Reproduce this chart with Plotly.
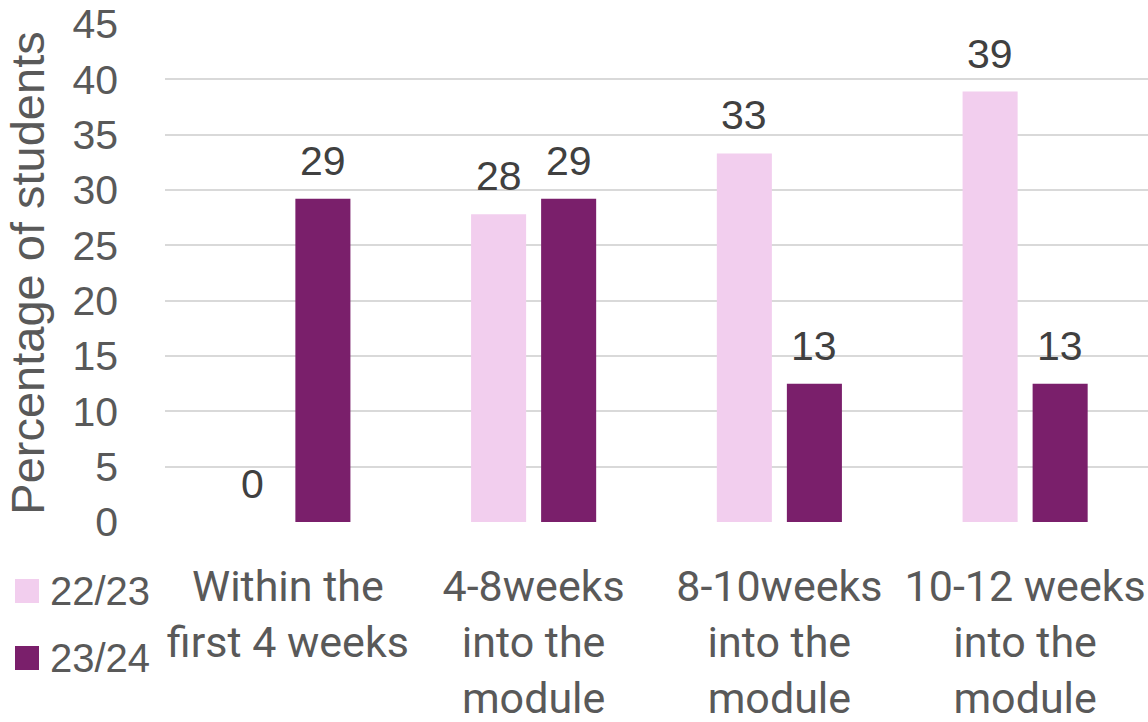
import plotly.graph_objects as go

categories = ["Within the<br>first 4 weeks", "4-8weeks<br>into the<br>module",
              "8-10weeks<br>into the<br>module", "10-12 weeks<br>into the<br>module"]
series_names = ["22/23", "23/24"]
values_2223 = [0, 27.8, 33.3, 38.9]
values_2324 = [29.2, 29.2, 12.5, 12.5]
y_ticks = [0, 5, 10, 15, 20, 25, 30, 35, 40, 45]

colors = ["#F2CEEE", "#7A1F6B"]
W, H = 1148, 722
L, R, T, B = 165, 0, 24, 200
pw, ph = W - L - R, H - T - B

fig = go.Figure()
for name, vals, col in zip(series_names, [values_2223, values_2324], colors):
    fig.add_trace(go.Bar(x=categories, y=vals, name=name, marker_color=col,
                         marker_line_width=0, showlegend=False))

# data labels
annotations = []
for vals, dx in zip([values_2223, values_2324], [-35, 35]):
    for c, v in zip(categories, vals):
        annotations.append(dict(x=c, y=v, xref="x", yref="y", text=f"{v:.0f}" if v != 12.5 else "13",
                                showarrow=False, xshift=dx, yshift=13, yanchor="bottom",
                                font=dict(family="Liberation Sans", size=41, color="#404040")))

# manual legend
def px_x(p):
    return (p - L) / pw

def px_y(p):
    return (H - B - p) / ph

shapes = []
for name, col, ytop in zip(series_names, colors, [579, 646]):
    shapes.append(dict(type="rect", xref="paper", yref="paper",
                       x0=px_x(15), x1=px_x(39), y0=px_y(ytop + 24), y1=px_y(ytop),
                       fillcolor=col, line_width=0))
    annotations.append(dict(x=px_x(48), y=px_y(ytop + 12), xref="paper", yref="paper",
                            text=name, showarrow=False, xanchor="left", yanchor="middle",
                            font=dict(family="Liberation Sans", size=40, color="#595959")))

fig.update_layout(
    width=W, height=H,
    margin=dict(l=L, r=R, t=T, b=B, autoexpand=False),
    paper_bgcolor="white", plot_bgcolor="white",
    barmode="group", bargap=0.43, bargroupgap=0.214,
    annotations=annotations, shapes=shapes,
    xaxis=dict(tickfont=dict(family="Roboto", size=43, color="#595959"),
               showgrid=False, showline=False, zeroline=False, ticklabelstandoff=35,
               automargin=False),
    yaxis=dict(range=[0, 45], tickvals=y_ticks, gridcolor="#D9D9D9", gridwidth=1.5,
               zeroline=False, showline=False, ticklabelstandoff=46,
               tickfont=dict(family="Liberation Sans", size=41, color="#595959"),
               title=dict(text="Percentage of students", standoff=12,
                          font=dict(family="Liberation Sans", size=47, color="#595959")),
               automargin=False),
)

fig.write_html("out.html")
